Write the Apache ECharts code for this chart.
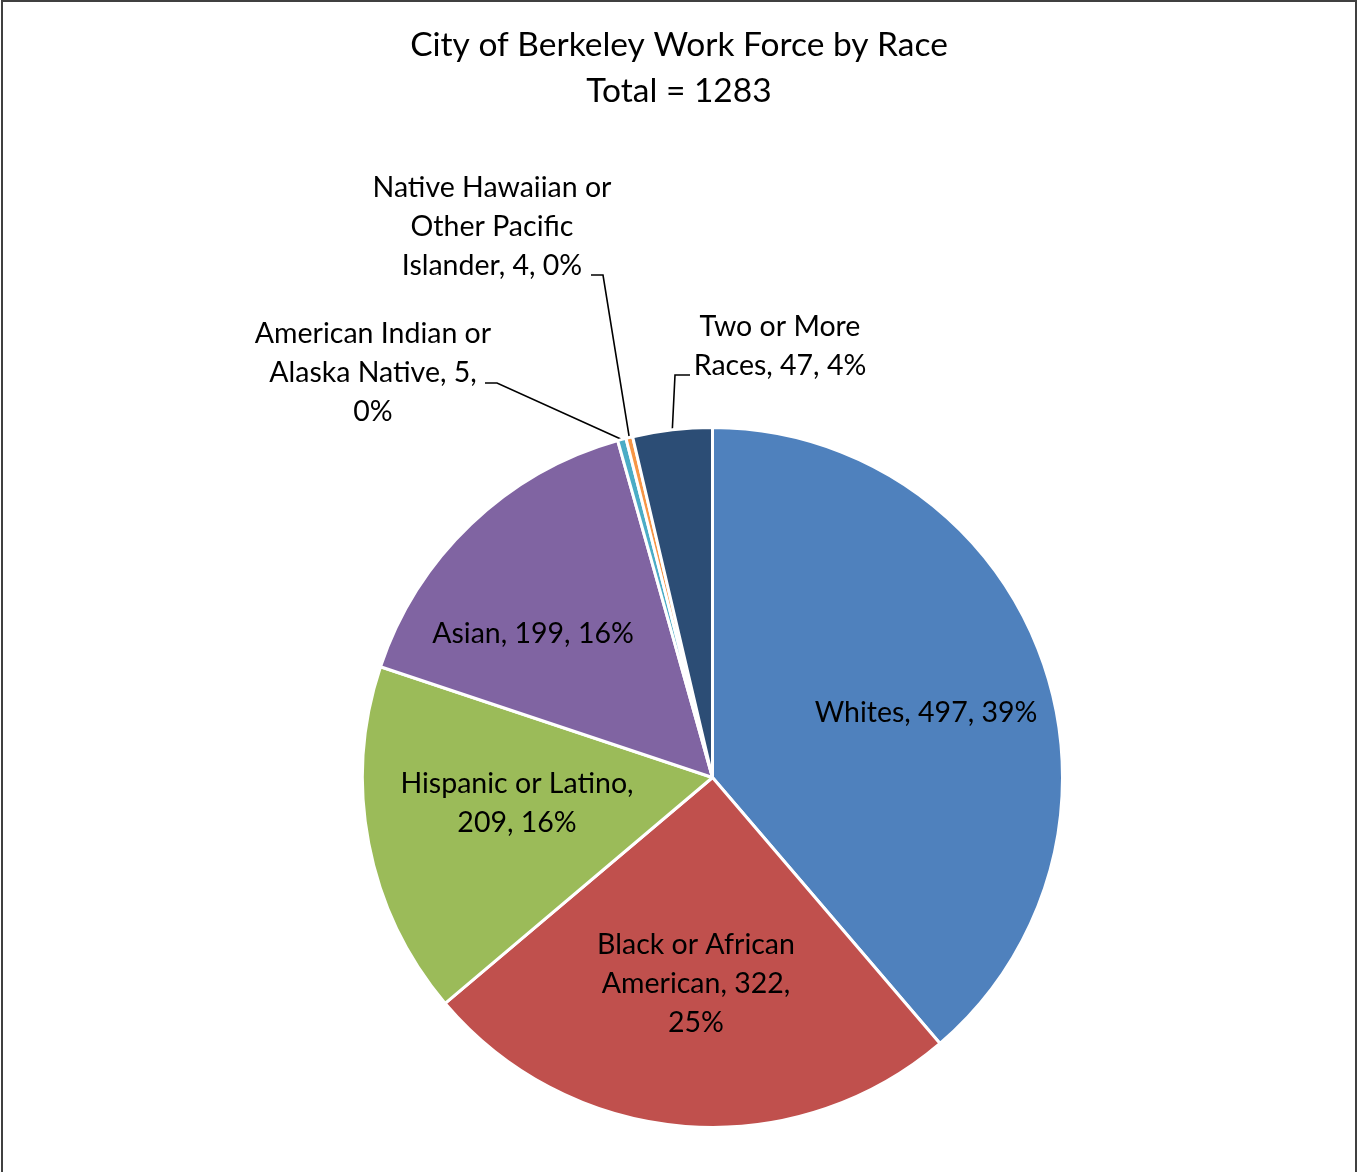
<!DOCTYPE html>
<html>
<head>
<meta charset="utf-8">
<script src="https://cdn.jsdelivr.net/npm/echarts@6/dist/echarts.min.js"></script>
<style>
html,body{margin:0;padding:0;background:#fff;overflow:hidden;}
#frame{position:absolute;left:1px;top:0;width:1356px;height:1200px;border:2px solid #404040;box-sizing:border-box;}
#chart{position:absolute;left:0;top:0;width:1358px;height:1172px;}
</style>
</head>
<body>
<div id="frame"></div>
<div id="chart"></div>
<script>
const titleLines = ['City of Berkeley Work Force by Race', 'Total = 1283'];
const categories = ['Whites', 'Black or African American', 'Hispanic or Latino', 'Asian', 'American Indian or Alaska Native', 'Native Hawaiian or Other Pacific Islander', 'Two or More Races'];
const values = [497, 322, 209, 199, 5, 4, 47];
const colors = ['#4F81BD', '#C0504D', '#9BBB59', '#8064A2', '#4BACC6', '#F79646', '#2C4D75'];
const labelTemplates = [
  'Whites, {c}, {d}%',
  'Black or African\nAmerican, {c},\n{d}%',
  'Hispanic or Latino,\n{c}, {d}%',
  'Asian, {c}, {d}%',
  'American Indian or\nAlaska Native, {c},\n{d}%',
  'Native Hawaiian or\nOther Pacific\nIslander, {c}, {d}%',
  'Two or More\nRaces, {c}, {d}%'
];
const outsideFlags = [false, false, false, false, true, true, true];
// label block centres (layout style)
const labelPos = [[926, 713], [696, 984], [517, 803], [533, 634], [373, 373], [492, 227], [780, 346]];
// leader attachment: offset from label centre [dx, dy], stub direction, stub length
const leaderAttach = {4: [112, 10, 1, 12], 5: [99, 48, 1, 12], 6: [-90, 29, -1, 15]};

const FONT = 'Lato';
const chart = echarts.init(document.getElementById('chart'));
chart.setOption({
  backgroundColor: 'transparent',
  animation: false,
  title: {
    text: titleLines.join('\n'),
    left: 'center',
    top: 17,
    textStyle: {fontFamily: FONT, fontSize: 33.5, fontWeight: 'normal', color: '#000', lineHeight: 46}
  },
  series: [{
    type: 'pie',
    center: [712.5, 777.5],
    radius: 350,
    startAngle: 90,
    clockwise: true,
    percentPrecision: 0,
    itemStyle: {borderColor: '#fff', borderWidth: 3},
    label: {fontFamily: FONT, fontSize: 28.5, color: '#000', lineHeight: 39, align: 'center'},
    labelLine: {lineStyle: {color: '#000', width: 1.6}, length: 40, length2: 12},
    labelLayout: function (p) {
      const pos = labelPos[p.dataIndex];
      const out = {x: pos[0], y: pos[1], align: 'center', verticalAlign: 'middle'};
      const a = leaderAttach[p.dataIndex];
      if (a && p.labelLinePoints && p.labelLinePoints.length) {
        const p0 = p.labelLinePoints[0];
        const ax = pos[0] + a[0], ay = pos[1] + a[1];
        out.labelLinePoints = [[p0[0], p0[1]], [ax + a[2] * a[3], ay], [ax, ay]];
      }
      return out;
    },
    data: categories.map((c, i) => ({
      name: c,
      value: values[i],
      itemStyle: {color: colors[i]},
      label: {position: outsideFlags[i] ? 'outside' : 'inside', formatter: labelTemplates[i]},
      labelLine: {show: outsideFlags[i]}
    }))
  }]
});
</script>
</body>
</html>
